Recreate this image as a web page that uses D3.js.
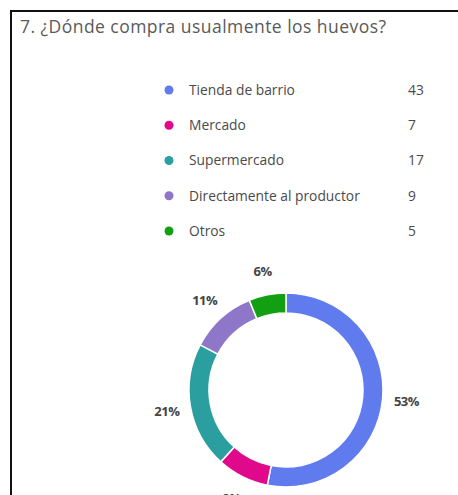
<!DOCTYPE html>
<html>
<head>
<meta charset="utf-8">
<script src="https://cdn.jsdelivr.net/npm/d3@7"></script>
<style>
  html, body { margin: 0; padding: 0; background: #fff; }
  svg { display: block; }
</style>
</head>
<body>
<svg id="chart" width="458" height="495"></svg>
<script>
// Survey question and answers
const title = "7. ¿Dónde compra usualmente los huevos?";
const categories = ["Tienda de barrio", "Mercado", "Supermercado", "Directamente al productor", "Otros"];
const counts = [43, 7, 17, 9, 5];
const colors = ["#5f7bee", "#e0098c", "#2b9fa0", "#8e77c8", "#12a012"];

const W = 458, H = 495;
const svg = d3.select("#chart");

// Card frame: top and left edges only
svg.append("path")
  .attr("d", `M11,${H} L11,11 L${W},11`)
  .attr("fill", "none")
  .attr("stroke", "#111")
  .attr("stroke-width", 2);

svg.append("text")
  .attr("x", 20)
  .attr("y", 33)
  .attr("font-family", "'Open Sans', sans-serif")
  .attr("font-size", 17.5)
  .attr("textLength", 366)
  .attr("lengthAdjust", "spacing")
  .attr("fill", "#5a5a5a")
  .text(title);

// Legend
const legendY = d3.scalePoint().domain(categories).range([90, 231]);
const legend = svg.append("g").attr("font-family", "'Open Sans', sans-serif")
  .attr("font-size", 13.8).attr("fill", "#4a4a4a");
categories.forEach((c, i) => {
  const y = legendY(c);
  legend.append("circle").attr("cx", 169).attr("cy", y).attr("r", 4.5).attr("fill", colors[i]);
  legend.append("text").attr("x", 189).attr("y", y).attr("dy", "0.35em").text(c);
  legend.append("text").attr("x", 408).attr("y", y).attr("dy", "0.35em").text(counts[i]);
});

// Donut
const cx = 286, cy = 390, rOuter = 97, rInner = 77, rLabel = 121;
const total = d3.sum(counts);
const pie = d3.pie().sort(null).value(d => d)(counts);
const arc = d3.arc().innerRadius(rInner).outerRadius(rOuter);
const labelArc = d3.arc().innerRadius(rLabel).outerRadius(rLabel);

const g = svg.append("g").attr("transform", `translate(${cx},${cy})`);
g.selectAll("path.slice")
  .data(pie)
  .join("path")
  .attr("class", "slice")
  .attr("d", arc)
  .attr("fill", (d, i) => colors[i])
  .attr("stroke", "#fff")
  .attr("stroke-width", 1.5);

g.selectAll("text.pct")
  .data(pie)
  .join("text")
  .attr("class", "pct")
  .attr("transform", d => `translate(${labelArc.centroid(d)})`)
  .attr("text-anchor", "middle")
  .attr("dy", "0.35em")
  .attr("font-family", "'Open Sans', sans-serif")
  .attr("font-size", 13)
  .attr("font-weight", "bold")
  .attr("letter-spacing", -0.5)
  .attr("fill", "#444")
  .text(d => Math.round(d.value / total * 100) + "%");
</script>
</body>
</html>
